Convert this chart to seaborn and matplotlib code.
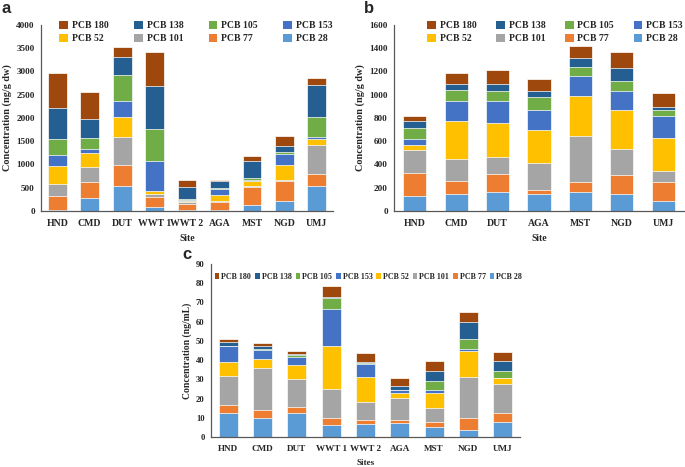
import pandas as pd
import seaborn as sns
import matplotlib.pyplot as plt
from matplotlib.patches import Patch

# congeners, bottom of stack to top
congeners = ["PCB 28", "PCB 77", "PCB 101", "PCB 52", "PCB 153", "PCB 105", "PCB 138", "PCB 180"]
colors = ["#5B9BD5", "#ED7D31", "#A5A5A5", "#FFC000", "#4472C4", "#70AD47", "#255E91", "#9E480E"]

# panel a - ng/g dw
sites_a = ["HND", "CMD", "DUT", "WWT 1", "WWT 2", "AGA", "MST", "NGD", "UMJ"]
a_pcb28 = [30, 286, 544, 86, 29, 20, 122, 207, 530]
a_pcb77 = [285, 329, 436, 222, 128, 173, 393, 430, 264]
a_pcb101 = [272, 322, 616, 64, 29, 22, 15, 21, 616]
a_pcb52 = [373, 315, 422, 57, 36, 136, 107, 329, 135]
a_pcb153 = [250, 79, 351, 651, 14, 121, 35, 229, 36]
a_pcb105 = [343, 243, 551, 680, 22, 29, 29, 50, 437]
a_pcb138 = [672, 408, 386, 937, 257, 136, 365, 122, 694]
a_pcb180 = [737, 587, 214, 716, 143, 21, 115, 215, 157]

# panel b - ng/g dw
sites_b = ["HND", "CMD", "DUT", "AGA", "MST", "NGD", "UMJ"]
b_pcb28 = [126, 146, 160, 146, 160, 146, 83]
b_pcb77 = [200, 114, 161, 37, 86, 166, 163]
b_pcb101 = [195, 189, 140, 229, 395, 220, 95]
b_pcb52 = [49, 324, 300, 286, 344, 338, 283]
b_pcb153 = [51, 174, 181, 175, 180, 163, 189]
b_pcb105 = [95, 95, 91, 109, 77, 86, 57]
b_pcb138 = [57, 51, 60, 51, 77, 112, 23]
b_pcb180 = [40, 98, 121, 100, 103, 134, 120]

# panel c - ng/mL
sites_c = ["HND", "CMD", "DUT", "WWT 1", "WWT 2", "AGA", "MST", "NGD", "UMJ"]
c_pcb28 = [12.3, 9.7, 12.6, 6.4, 6.75, 7.1, 5.4, 3.6, 7.8]
c_pcb77 = [4.1, 4.1, 3.0, 3.5, 1.9, 1.6, 2.2, 6.1, 4.8]
c_pcb101 = [15.3, 21.9, 14.5, 15.0, 9.6, 11.4, 7.3, 21.5, 14.9]
c_pcb52 = [7.1, 5.1, 7.6, 22.3, 13.2, 2.7, 8.1, 13.3, 3.0]
c_pcb153 = [8.4, 4.5, 4.0, 19.4, 6.7, 1.6, 1.6, 1.4, 0.3]
c_pcb105 = [0.2, 0.6, 1.2, 5.6, 0.6, 0.2, 4.5, 5.0, 3.5]
c_pcb138 = [1.9, 1.3, 0.4, 0.7, 0.2, 1.7, 5.2, 9.2, 5.2]
c_pcb180 = [1.9, 1.6, 1.7, 5.5, 4.9, 4.2, 5.3, 4.8, 4.6]

sns.set_style("white")
plt.rcParams["font.family"] = ["Liberation Serif", "DejaVu Serif"]
plt.rcParams["font.weight"] = "bold"
axis_col = "#595959"


def stacked(ax, sites, cols, ymax, ystep, ylabel, xlabel, width, fs):
    df = pd.DataFrame(dict(zip(congeners, cols)), index=sites)
    cum = df.cumsum(axis=1)
    # draw from the top of the stack down so lower parts cover the upper bars
    for name, col in reversed(list(zip(congeners, colors))):
        sns.barplot(x=sites, y=cum[name].values, color=col, saturation=1,
                    width=width, edgecolor="white", linewidth=0.5, ax=ax)
    ax.set_ylim(0, ymax)
    ax.set_xlim(-0.5, len(sites) - 0.5)
    ax.set_yticks(range(0, ymax + 1, ystep))
    ax.set_ylabel(ylabel, fontsize=fs + 0.3, fontweight="bold", labelpad=3)
    ax.set_xlabel(xlabel, fontsize=fs, fontweight="bold", labelpad=4)
    ax.tick_params(axis="y", labelsize=fs - 0.4, length=2.5, width=0.6, color=axis_col, pad=2)
    ax.tick_params(axis="x", labelsize=fs, length=0, pad=6)
    for lab in ax.get_xticklabels() + ax.get_yticklabels():
        lab.set_fontweight("bold")
    sns.despine(ax=ax)
    for s in ("left", "bottom"):
        ax.spines[s].set_color(axis_col)
        ax.spines[s].set_linewidth(0.9)


fig = plt.figure(figsize=(6.85, 4.67), dpi=100)
ax_a = fig.add_axes([0.0599, 0.5482, 0.4263, 0.3983])
ax_b = fig.add_axes([0.5752, 0.5482, 0.4234, 0.3983])
ax_c = fig.add_axes([0.308, 0.0642, 0.451, 0.3704])

stacked(ax_a, sites_a, [a_pcb28, a_pcb77, a_pcb101, a_pcb52, a_pcb153, a_pcb105, a_pcb138, a_pcb180],
        4000, 500, "Concentration (ng/g dw)", "Site", 0.58, 7.0)
stacked(ax_b, sites_b, [b_pcb28, b_pcb77, b_pcb101, b_pcb52, b_pcb153, b_pcb105, b_pcb138, b_pcb180],
        1600, 200, "Concentration (ng/g dw)", "Site", 0.56, 7.0)
stacked(ax_c, sites_c, [c_pcb28, c_pcb77, c_pcb101, c_pcb52, c_pcb153, c_pcb105, c_pcb138, c_pcb180],
        90, 10, "Concentration (ng/mL)", "Sites", 0.55, 6.6)

# legends: top of stack first
handles = {n: Patch(facecolor=c, edgecolor="none") for n, c in zip(congeners, colors)}
leg_order = ["PCB 180", "PCB 138", "PCB 105", "PCB 153", "PCB 52", "PCB 101", "PCB 77", "PCB 28"]
# matplotlib fills columns first, so reorder for a row-wise 2x4 layout
col_major = [leg_order[i] for i in (0, 4, 1, 5, 2, 6, 3, 7)]
for ax, cx, cs in ((ax_a, 0.53, 2.6), (ax_b, 0.555, 2.0)):
    ax.legend([handles[n] for n in col_major], col_major, ncol=4, loc="upper center",
              bbox_to_anchor=(cx, 1.07), frameon=False, prop={"size": 7.0, "weight": "bold"},
              handlelength=0.9, handleheight=0.9, handletextpad=0.4, columnspacing=cs,
              labelspacing=0.35)
ax_c.legend([handles[n] for n in leg_order], leg_order, ncol=8, loc="upper center",
            bbox_to_anchor=(0.51, 0.99), frameon=False, prop={"size": 5.8, "weight": "bold"},
            handlelength=0.55, handleheight=0.8, handletextpad=0.25, columnspacing=0.5)

for txt, x, y in (("a", 0.002, 0.998), ("b", 0.531, 0.998), ("c", 0.266, 0.472)):
    fig.text(x, y, txt, fontsize=12, fontweight="bold", family="Liberation Sans", va="top")

plt.savefig("out.png", dpi=100)
